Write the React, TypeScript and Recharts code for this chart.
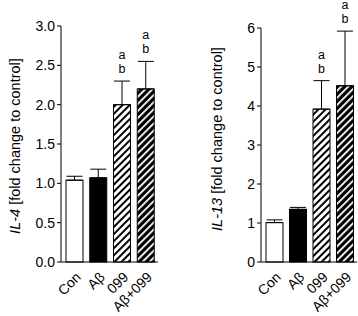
import React from "react";
import { ComposedChart, Bar, XAxis, YAxis, ErrorBar, Label, LabelList } from "recharts";

const categories = ["Con", "A\u03b2", "099", "A\u03b2+099"];
const il4Mean = [1.04, 1.07, 2.0, 2.2];
const il4Err = [0.05, 0.11, 0.3, 0.35];
const il13Mean = [1.01, 1.35, 3.92, 4.52];
const il13Err = [0.07, 0.05, 0.73, 1.4];
const marks = [[], [], ["a", "b"], ["a", "b"]];
const il4Ticks = [0, 0.5, 1.0, 1.5, 2.0, 2.5, 3.0];
const il13Ticks = [0, 1, 2, 3, 4, 5, 6];

const FONT = "'Liberation Sans', Arial, sans-serif";
const fills = ["#fff", "#000", "url(#hatchLight)", "url(#hatchDark)"];

const build = (mean: number[], err: number[]) =>
    categories.map((c, i) => ({ name: c, mean: mean[i], err: [0, err[i]], top: mean[i] + err[i], marks: marks[i] }));

const XTick = (props: any) => {
    const { x, y, payload } = props;
    const ax = x + 7;
    const ay = y + 8;
    return (
        <text x={ax} y={ay} transform={`rotate(-45 ${ax} ${ay})`} textAnchor="end" fontSize={14} fontFamily={FONT} fill="#000">
            {payload.value}
        </text>
    );
};

function Panel(props: { gene: string; mean: number[]; err: number[]; ticks: number[]; axisW: number; labelX: number; labelDy: number; top: number; right: number; fmt: (v: number) => string }) {
    const data = build(props.mean, props.err);
    const yLabel = (lp: any) => {
        const vb = lp.viewBox;
        const cx = vb.x + props.labelX;
        const cy = vb.y + vb.height / 2 + props.labelDy;
        return (
            <text x={cx} y={cy} transform={`rotate(-90 ${cx} ${cy})`} textAnchor="middle" dominantBaseline="central" fontSize={14.5} fontFamily={FONT} fill="#000">
                <tspan fontStyle="italic">{props.gene}</tspan> [fold change to control]
            </text>
        );
    };
    // letters sit above the error-bar cap; cap height comes from the bar's own scale
    const renderMarks = (lp: any) => {
        const { x, y, width, height, index } = lp;
        const d = data[index];
        if (!d.marks.length) return null;
        const base = y + height;
        const capY = base - (d.top * height) / d.mean;
        const cx = x + width / 2;
        return (
            <g>
                <text x={cx} y={capY - 22} textAnchor="middle" fontSize={12.5} fontFamily={FONT} fill="#000">{d.marks[0]}</text>
                <text x={cx} y={capY - 8} textAnchor="middle" fontSize={12.5} fontFamily={FONT} fill="#000">{d.marks[1]}</text>
            </g>
        );
    };
    return (
        <ComposedChart width={179} height={316} data={data} margin={{ top: props.top, right: props.right, bottom: 24, left: 0 }}>
            <defs>
                <pattern id="hatchLight" patternUnits="userSpaceOnUse" width={5} height={5} patternTransform="rotate(45)">
                    <rect width={5} height={5} fill="#fff" />
                    <rect width={2} height={5} fill="#000" />
                </pattern>
                <pattern id="hatchDark" patternUnits="userSpaceOnUse" width={5} height={5} patternTransform="rotate(45)">
                    <rect width={5} height={5} fill="#000" />
                    <rect width={1.8} height={5} fill="#fff" />
                </pattern>
            </defs>
            <XAxis dataKey="name" height={30} tick={<XTick />} tickLine={false} axisLine={{ stroke: "#000" }} interval={0} padding={{ left: 2, right: 0 }} />
            <YAxis
                width={props.axisW}
                domain={[props.ticks[0], props.ticks[props.ticks.length - 1]]}
                ticks={props.ticks}
                tickFormatter={props.fmt}
                tick={{ fontSize: 14, fontFamily: FONT, fill: "#000" }}
                tickSize={4}
                tickLine={{ stroke: "#000" }}
                axisLine={{ stroke: "#000" }}
            >
                <Label content={yLabel} />
            </YAxis>
            <Bar dataKey="mean" barSize={17} stroke="#000" strokeWidth={1} isAnimationActive={false}
                shape={(sp: any) => <rect x={sp.x} y={sp.y} width={sp.width} height={sp.height} fill={fills[sp.index]} stroke="#000" strokeWidth={1} />}>
                <ErrorBar dataKey="err" direction="y" width={8} stroke="#000" strokeWidth={1} isAnimationActive={false} />
                <LabelList dataKey="top" content={renderMarks} />
            </Bar>
        </ComposedChart>
    );
}

export default function App() {
    return (
        <div style={{ position: "absolute", left: 0, top: 0, width: 358, height: 316, background: "#fff", display: "flex" }}>
            <Panel gene="IL-4" mean={il4Mean} err={il4Err} ticks={il4Ticks} axisW={61} labelX={15} labelDy={2} top={26} right={21} fmt={(v) => v.toFixed(1)} />
            <Panel gene="IL-13" mean={il13Mean} err={il13Err} ticks={il13Ticks} axisW={82} labelX={38} labelDy={-6} top={28} right={1} fmt={(v) => String(v)} />
        </div>
    );
}
